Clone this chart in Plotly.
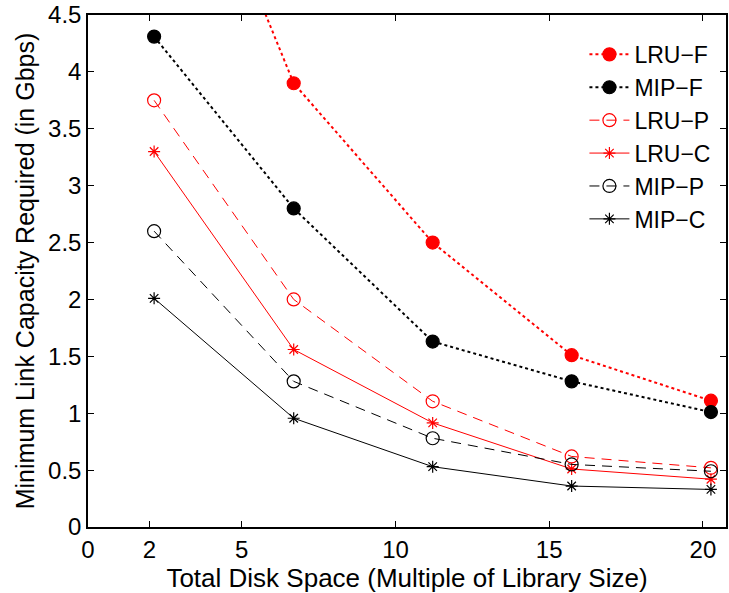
import plotly.graph_objects as go

disk_space = [2.15, 6.69, 11.21, 15.73, 20.26]
lru_f = [6.9, 3.90, 2.50, 1.51, 1.11]
mip_f = [4.31, 2.80, 1.63, 1.28, 1.01]
lru_p = [3.75, 2.00, 1.105, 0.62, 0.52]
lru_c = [3.30, 1.56, 0.915, 0.51, 0.42]
mip_p = [2.60, 1.28, 0.78, 0.55, 0.49]
mip_c = [2.01, 0.956, 0.53, 0.36, 0.33]

x_ticks = [0, 2, 5, 10, 15, 20]
y_ticks = [0, 0.5, 1, 1.5, 2, 2.5, 3, 3.5, 4, 4.5]
y_tick_text = ["0", "0.5", "1", "1.5", "2", "2.5", "3", "3.5", "4", "4.5"]

RED = "rgb(255,0,0)"
BLK = "rgb(0,0,0)"

series = [
    ("LRU\u2212F", lru_f, RED, "dot", "circle", 13),
    ("MIP\u2212F", mip_f, BLK, "dot", "circle", 13),
    ("LRU\u2212P", lru_p, RED, "10px,7px", "circle-open", 13),
    ("LRU\u2212C", lru_c, RED, "solid", "asterisk-open", 10),
    ("MIP\u2212P", mip_p, BLK, "10px,7px", "circle-open", 13),
    ("MIP\u2212C", mip_c, BLK, "solid", "asterisk-open", 10),
]

fig = go.Figure()
for name, vals, color, dash, sym, size in series:
    lw = 2 if dash == "dot" else 1
    fig.add_trace(go.Scatter(
        x=disk_space, y=vals, name=name, mode="lines+markers",
        line=dict(color=color, dash=dash, width=lw),
        marker=dict(symbol=sym, size=size, color=color,
                    line=dict(color=color, width=1.2)),
    ))

font = "Liberation Sans, Arial, Helvetica, sans-serif"
fig.update_layout(
    width=729, height=593,
    margin=dict(l=88, r=1, t=14, b=66),
    paper_bgcolor="white", plot_bgcolor="white",
    font=dict(family=font, size=24, color="black"),
    showlegend=True,
    legend=dict(x=0.985, y=0.965, xanchor="right", yanchor="top",
                bgcolor="rgba(255,255,255,0)", borderwidth=0,
                font=dict(size=23), tracegroupgap=0, itemwidth=40),
    xaxis=dict(range=[0, 20.75], tickvals=x_ticks, ticktext=[str(t) for t in x_ticks],
               ticks="inside", ticklen=6, tickcolor="black", tickwidth=1,
               showline=True, linecolor="black", linewidth=1.5, mirror="ticks",
               showgrid=False, zeroline=False, tickfont=dict(size=24),
               title=dict(text="Total Disk Space (Multiple of Library Size)",
                          font=dict(size=26), standoff=0)),
    yaxis=dict(range=[0, 4.5], tickvals=y_ticks, ticktext=y_tick_text,
               ticks="inside", ticklen=6, tickcolor="black", tickwidth=1,
               showline=True, linecolor="black", linewidth=1.5, mirror="ticks",
               showgrid=False, zeroline=False, tickfont=dict(size=24),
               title=dict(text="Minimum Link Capacity Required (in Gbps)",
                          font=dict(size=25), standoff=6)),
)

fig.write_html("out.html")
